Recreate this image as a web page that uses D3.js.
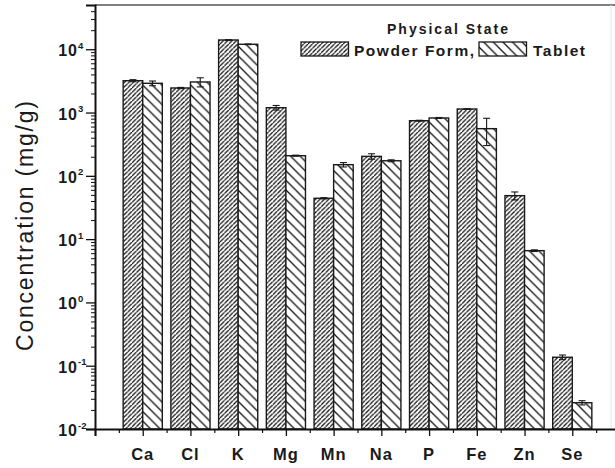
<!DOCTYPE html>
<html>
<head>
<meta charset="utf-8">
<script src="https://cdn.jsdelivr.net/npm/d3@7"></script>
<style>
  html, body { margin: 0; padding: 0; background: #fff; }
  svg { display: block; font-family: "Liberation Sans", Arial, Helvetica, sans-serif; }
</style>
</head>
<body>
<svg id="chart" width="615" height="468"></svg>
<script>
// Element concentrations (mg/g) by physical state, mean and standard deviation
const elements = ["Ca", "Cl", "K", "Mg", "Mn", "Na", "P", "Fe", "Zn", "Se"];
const powder = [3185, 2443, 14000, 1193, 44.2, 203, 743, 1137, 48.6, 0.136];
const powderErr = [120, 50, 150, 100, 1, 20, 12, 12, 7, 0.0115];
const tablet = [2897, 3040, 11970, 208, 150, 173, 820, 556, 6.57, 0.026];
const tabletErr = [250, 500, 150, 4, 12, 6, 15, 255, 0.2, 0.002];
const yTickExponents = [-2, -1, 0, 1, 2, 3, 4];
const seriesNames = ["Powder Form,", "Tablet"];
const legendTitle = "Physical State";
const yTitle = "Concentration (mg/g)";

const svg = d3.select("#chart");
const plotLeft = 95, plotRight = 620, plotTop = 5, plotBottom = 429;

const x = d3.scaleLinear().domain([-1, 10]).range([plotLeft, plotRight]);
const y = d3.scaleLog().domain([0.01, 50000]).range([plotBottom, plotTop]);

// hatch patterns
const defs = svg.append("defs");
function hatch(id, w, dir, sw) {
  const p = defs.append("pattern").attr("id", id)
    .attr("patternUnits", "userSpaceOnUse").attr("width", w).attr("height", w);
  p.append("rect").attr("width", w).attr("height", w).attr("fill", "#fff");
  const d = dir > 0
    ? `M0,${w} L${w},0 M${-w},${w} L0,0 M${w},${2 * w} L${2 * w},${w}`
    : `M0,0 L${w},${w} M${-w},0 L0,${w} M${w},0 L${2 * w},${w} M0,${-w} L${w},0 M0,${w} L${w},${2 * w}`;
  p.append("path").attr("d", d).attr("stroke", "#111").attr("stroke-width", sw).attr("fill", "none");
}
hatch("hatchPowder", 4.4, 1, 1.25);
hatch("hatchTablet", 9.6, -1, 1.3);

const barW = x(0.41) - x(0);
const groups = [
  { vals: powder, errs: powderErr, fill: "url(#hatchPowder)", off: -barW },
  { vals: tablet, errs: tabletErr, fill: "url(#hatchTablet)", off: 0 }
];

const plot = svg.append("g");
groups.forEach(g => {
  plot.selectAll(null).data(g.vals).enter().append("rect")
    .attr("x", (d, i) => x(i) + g.off)
    .attr("y", d => y(d))
    .attr("width", barW)
    .attr("height", d => plotBottom - y(d))
    .attr("fill", g.fill)
    .attr("stroke", "#1a1a1a")
    .attr("stroke-width", 1.4);
});

// error bars
groups.forEach(g => {
  g.vals.forEach((v, i) => {
    const cx = x(i) + g.off + barW / 2;
    const hi = y(v + g.errs[i]), lo = y(Math.max(v - g.errs[i], 1e-6));
    const e = plot.append("g").attr("stroke", "#1a1a1a").attr("stroke-width", 1.1);
    e.append("line").attr("x1", cx).attr("x2", cx).attr("y1", hi).attr("y2", lo);
    e.append("line").attr("x1", cx - 3.5).attr("x2", cx + 3.5).attr("y1", hi).attr("y2", hi);
    e.append("line").attr("x1", cx - 3.5).attr("x2", cx + 3.5).attr("y1", lo).attr("y2", lo);
  });
});

// frame: faint top and right borders
svg.append("line").attr("x1", plotLeft).attr("x2", 615).attr("y1", plotTop).attr("y2", plotTop)
  .attr("stroke", "#555").attr("stroke-width", 1.3);
svg.append("line").attr("x1", 611).attr("x2", 611).attr("y1", plotTop).attr("y2", plotBottom)
  .attr("stroke", "#e6e6e6").attr("stroke-width", 1);

// y axis with log minor ticks
const yMinor = [];
for (let e = -2; e <= 4; e++) for (let m = 2; m <= 9; m++) {
  const v = m * Math.pow(10, e);
  if (v <= 50000) yMinor.push(v);
}
const yAxisMinor = svg.append("g").attr("transform", `translate(${plotLeft},0)`)
  .call(d3.axisLeft(y).tickValues(yMinor).tickSize(4).tickFormat(""));
yAxisMinor.select(".domain").remove();
yAxisMinor.selectAll("line").attr("stroke", "#111").attr("stroke-width", 1);

const yAxis = svg.append("g").attr("transform", `translate(${plotLeft},0)`)
  .call(d3.axisLeft(y).tickValues(yTickExponents.map(e => Math.pow(10, e))).tickSize(9).tickFormat(""));
yAxis.select(".domain").attr("stroke", "#111").attr("stroke-width", 2);
yAxis.selectAll("line").attr("stroke", "#111").attr("stroke-width", 1.3);

const yLab = svg.append("g");
yTickExponents.forEach(e => {
  yLab.append("text")
    .attr("x", 78).attr("y", y(Math.pow(10, e)) + 7)
    .attr("text-anchor", "end")
    .attr("font-size", 16).attr("font-weight", "bold").attr("fill", "#1a1a1a")
    .attr("letter-spacing", 1)
    .text("10");
  yLab.append("text")
    .attr("x", 78).attr("y", y(Math.pow(10, e)) - 0.5)
    .attr("font-size", 9.5).attr("font-weight", "bold").attr("fill", "#1a1a1a")
    .text(e);
});

// x axis
const xAxisMinor = svg.append("g").attr("transform", `translate(0,${plotBottom})`)
  .call(d3.axisBottom(x).tickValues(d3.range(-0.5, 10, 1)).tickSize(4).tickFormat(""));
xAxisMinor.select(".domain").remove();
xAxisMinor.selectAll("line").attr("stroke", "#111").attr("stroke-width", 1.2);

const xAxis = svg.append("g").attr("transform", `translate(0,${plotBottom})`)
  .call(d3.axisBottom(x).tickValues(d3.range(-1, 10, 1)).tickSize(7).tickFormat(""));
xAxis.select(".domain").attr("stroke", "#111").attr("stroke-width", 2);
xAxis.selectAll("line").attr("stroke", "#111").attr("stroke-width", 1.3);

svg.append("g").selectAll("text").data(elements).enter().append("text")
  .attr("x", (d, i) => x(i)).attr("y", 460)
  .attr("text-anchor", "middle")
  .attr("font-size", 16.5).attr("font-weight", "bold").attr("fill", "#1a1a1a")
  .attr("letter-spacing", 1)
  .text(d => d);

// y title
svg.append("text")
  .attr("transform", "translate(33,226) rotate(-90)")
  .attr("text-anchor", "middle")
  .attr("font-size", 23).attr("fill", "#1a1a1a")
  .attr("textLength", 250).attr("lengthAdjust", "spacing")
  .text(yTitle);

// legend
const lg = svg.append("g");
lg.append("text").attr("x", 447.5).attr("y", 34).attr("text-anchor", "middle")
  .attr("font-size", 14).attr("font-weight", "bold").attr("fill", "#1a1a1a")
  .attr("textLength", 121).attr("lengthAdjust", "spacing")
  .text(legendTitle);
const legendItems = [
  { fill: "url(#hatchPowder)", sx: 301, tx: 354, tl: 120, name: seriesNames[0] },
  { fill: "url(#hatchTablet)", sx: 479, tx: 533, tl: 52, name: seriesNames[1] }
];
legendItems.forEach(it => {
  lg.append("rect").attr("x", it.sx).attr("y", 42).attr("width", 47.5).attr("height", 14)
    .attr("fill", it.fill).attr("stroke", "#1a1a1a").attr("stroke-width", 1.3);
  lg.append("text").attr("x", it.tx).attr("y", 56)
    .attr("font-size", 15.5).attr("font-weight", "bold").attr("fill", "#1a1a1a")
    .attr("textLength", it.tl).attr("lengthAdjust", "spacing")
    .text(it.name);
});
</script>
</body>
</html>
